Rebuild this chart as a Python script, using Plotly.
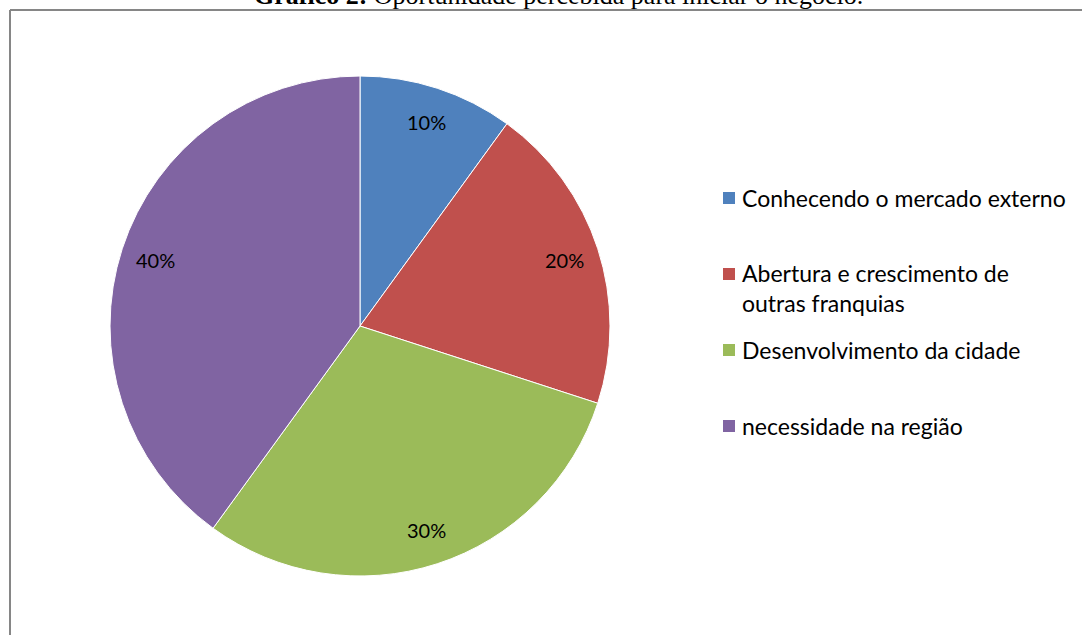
import math
import plotly.graph_objects as go

# Chart data
categories = [
    "Conhecendo o mercado externo",
    "Abertura e crescimento de outras franquias",
    "Desenvolvimento da cidade",
    "necessidade na região",
]
legend_labels = [
    "Conhecendo o mercado externo",
    "Abertura e crescimento de<br>outras franquias",
    "Desenvolvimento da cidade",
    "necessidade na região",
]
values = [10, 20, 30, 40]
colors = ["#4F81BD", "#C0504D", "#9BBB59", "#8064A2"]
title_text = "<b>Gráfico 2:</b> Oportunidade percebida para iniciar o negócio."

W, H = 1082, 635

# Pie geometry (pixels)
cx, cy, R = 360, 326, 250
label_r = 0.86 * R

fig = go.Figure(
    go.Pie(
        labels=categories,
        values=values,
        sort=False,
        direction="clockwise",
        rotation=0,
        marker=dict(colors=colors, line=dict(color="white", width=1)),
        textinfo="none",
        hoverinfo="label+percent",
        showlegend=False,
        domain=dict(
            x=[(cx - R) / W, (cx + R) / W],
            y=[1 - (cy + R) / H, 1 - (cy - R) / H],
        ),
    )
)

annotations = []

# Percentage labels placed along each slice's mid-angle
total = sum(values)
cum = 0
for v in values:
    mid = (cum + v / 2) / total * 2 * math.pi
    cum += v
    px = cx + label_r * math.sin(mid)
    py = cy - label_r * math.cos(mid)
    annotations.append(dict(
        x=px / W, y=1 - py / H, xref="paper", yref="paper",
        text=f"{round(v / total * 100)}%", showarrow=False,
        xanchor="center", yanchor="middle",
        font=dict(family="Lato", size=20, color="#000000"),
    ))

# Legend: square swatches with text
leg_x = 723
leg_y0 = 198
leg_step = 76
shapes = []
for i, (lab, col) in enumerate(zip(legend_labels, colors)):
    yc = leg_y0 + i * leg_step
    shapes.append(dict(
        type="rect", xref="paper", yref="paper",
        x0=leg_x / W, x1=(leg_x + 12) / W,
        y0=1 - (yc + 6) / H, y1=1 - (yc - 6) / H,
        fillcolor=col, line=dict(width=0),
    ))
    annotations.append(dict(
        x=(leg_x + 17) / W, y=1 - (yc - 16.5) / H, xref="paper", yref="paper",
        text=lab, showarrow=False, xanchor="left", yanchor="top", align="left",
        font=dict(family="Lato", size=23, color="#000000"),
    ))

# Title (partly above the visible area)
annotations.append(dict(
    x=558 / W, y=1 + 5 / H, xref="paper", yref="paper",
    text=title_text, showarrow=False, xanchor="center", yanchor="middle",
    font=dict(family="Liberation Serif", size=26, color="#000000"),
))

# Chart frame: left and top edges, kept within the canvas
frame_x = 10 / W
frame_y = 1 - 10 / H
for x0, y0, x1, y1 in [(frame_x, frame_y, 1.0, frame_y), (frame_x, 0.0, frame_x, frame_y)]:
    shapes.append(dict(
        type="line", xref="paper", yref="paper",
        x0=x0, y0=y0, x1=x1, y1=y1,
        line=dict(color="#868686", width=2), layer="below",
    ))

fig.update_layout(
    width=W, height=H,
    margin=dict(l=0, r=0, t=0, b=0),
    paper_bgcolor="white",
    plot_bgcolor="white",
    annotations=annotations,
    shapes=shapes,
)

fig.write_html("out.html")
